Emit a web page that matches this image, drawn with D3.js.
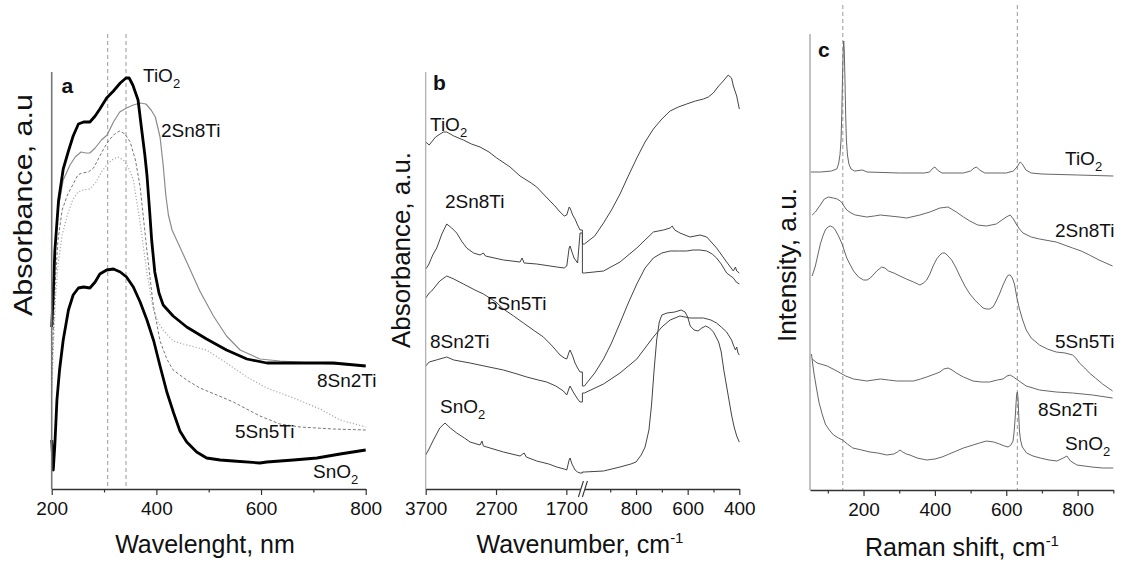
<!DOCTYPE html>
<html><head><meta charset="utf-8">
<script src="https://cdn.jsdelivr.net/npm/d3@7"></script>
<style>
body{margin:0;background:#fff}
text{font-family:"Liberation Sans",Arial,Helvetica,sans-serif;fill:#111}
</style>
</head><body>
<svg id="chart" width="1127" height="562"></svg>
<script>
// ---------------- DATA ----------------
const samples = ["TiO2","2Sn8Ti","5Sn5Ti","8Sn2Ti","SnO2"];

// Panel a: UV-Vis absorbance (wavelength nm, absorbance a.u.)
const uvTiO2 = [[200,162],[203,195],[206,238],[213,288],[222,320],[232,338],[241,353],[251,365],[261,367],[273,367],[283,373],[292,380],[305,391],[318,398],[331,406],[342,411],[348,411],[355,404],[365,389],[372,359],[378,334],[382,314],[387,279],[391,249],[397,217],[405,196],[413,184],[432,173],[458,162],[496,150],[534,139],[573,130],[611,126],[675,126],[738,126],[800,123]];
const uv2Sn8Ti = [[200,159],[205,229],[212,279],[222,309],[235,324],[245,332],[256,337],[265,336],[273,336],[283,341],[295,349],[306,354],[318,367],[330,377],[343,381],[356,384],[369,386],[380,385],[390,379],[398,372],[407,352],[413,324],[418,294],[423,274],[430,259],[458,227],[483,198],[509,173],[534,153],[560,139],[598,130],[636,128],[700,126],[800,123]];
const uv5Sn5Ti = [[200,109],[203,159],[207,209],[212,249],[220,279],[230,294],[240,304],[250,314],[258,316],[270,317],[280,321],[290,331],[300,341],[310,349],[320,355],[330,358],[340,355],[350,347],[360,329],[369,302],[382,238],[394,184],[407,148],[420,130],[432,119],[458,109],[483,101],[520,93],[547,87],[598,73],[636,65],[675,62],[738,60],[800,59]];
const uv8Sn2Ti = [[200,94],[203,139],[207,189],[212,224],[220,254],[230,274],[240,289],[250,297],[260,299],[273,300],[285,307],[295,317],[305,324],[315,329],[326,332],[337,329],[347,321],[356,309],[369,266],[382,216],[394,180],[404,166],[413,159],[432,148],[458,144],[496,139],[534,126],[573,112],[611,101],[662,91],[713,80],[751,69],[800,62]];
const uvSnO2 = [[200,49],[203,19],[206,44],[210,89],[215,119],[222,149],[232,179],[241,194],[251,201],[261,202],[273,201],[283,207],[292,215],[305,219],[318,220],[331,217],[343,212],[356,202],[369,187],[382,169],[395,148],[407,123],[420,97],[433,76],[445,58],[458,47],[477,37],[496,31],[522,29],[547,28],[598,26],[611,27],[662,29],[707,31],[751,35],[800,39]];
const uvRefLines = [307, 342];
const uvTicks = [200,400,600,800];
const uvMinorTicks = [300,500,700];

// Panel b: FTIR absorbance, high-wavenumber part (3700-1500) and low part (1000-400)
const irTiO2High = [[3700,347],[3650,344],[3560,352],[3450,357],[3401,357],[3300,353],[3164,349],[3050,345],[2927,342],[2800,337],[2690,331],[2500,322],[2358,313],[2200,306],[2121,302],[2000,293],[1931,288],[1850,282],[1789,277],[1730,273],[1694,274],[1660,282],[1647,281],[1610,274],[1576,270],[1540,264],[1505,259]];
const irTiO2Low = [[1000,245],[960,253],[926,266],[895,279],[862,295],[830,313],[797,331],[765,347],[733,360],[700,370],[668,378],[636,382],[604,385],[570,388],[539,390],[520,392],[501,396],[480,403],[462,408],[443,414],[430,411],[423,403],[410,393],[400,380]];
const ir2Sn8TiHigh = [[3700,220],[3660,224],[3600,234],[3543,241],[3470,255],[3401,265],[3330,261],[3259,256],[3190,248],[3117,241],[3020,236],[2927,234],[2880,236],[2850,233],[2595,229],[2358,227],[2330,231],[2300,226],[2121,225],[1836,222],[1730,221],[1694,223],[1660,241],[1647,243],[1620,237],[1590,231],[1540,226],[1505,256]];
const ir2Sn8TiLow = [[1000,216],[926,218],[862,227],[797,241],[765,249],[733,257],[694,259],[668,261],[660,263],[650,259],[630,256],[591,252],[552,254],[526,252],[488,241],[449,227],[423,218],[415,222],[410,218],[400,216]];
const ir5Sn5TiHigh = [[3700,191],[3650,196],[3615,198],[3500,208],[3401,213],[3300,210],[3164,205],[3000,199],[2879,195],[2700,187],[2595,180],[2450,173],[2310,166],[2150,158],[2026,152],[1900,143],[1789,134],[1730,131],[1694,130],[1660,137],[1647,139],[1610,133],[1576,126],[1540,121],[1505,117]];
const ir5Sn5TiLow = [[1000,103],[960,116],[926,130],[895,146],[862,166],[830,186],[797,205],[765,221],[733,231],[700,236],[668,238],[636,238],[604,238],[580,239],[552,239],[526,238],[505,235],[488,231],[470,225],[449,216],[423,211],[412,207],[400,205]];
const ir8Sn2TiHigh = [[3700,123],[3650,127],[3550,129],[3401,132],[3300,129],[3069,126],[2800,122],[2595,119],[2400,115],[2263,112],[2100,109],[1979,107],[1850,103],[1741,98],[1694,94],[1660,101],[1647,103],[1610,98],[1576,94],[1540,90],[1505,87]];
const ir8Sn2TiLow = [[1000,96],[926,105],[862,116],[797,130],[765,141],[733,152],[700,162],[668,169],[630,173],[591,171],[560,171],[539,171],[510,169],[488,166],[470,162],[449,157],[430,149],[423,144],[415,139],[410,142],[405,136],[400,134]];
const irSnO2High = [[3700,34],[3660,39],[3590,49],[3500,61],[3425,66],[3350,61],[3259,56],[3150,51],[3069,47],[2927,44],[2900,48],[2880,43],[2595,37],[2358,33],[2300,36],[2270,32],[2121,28],[1950,25],[1836,22],[1730,20],[1694,19],[1660,29],[1647,31],[1620,25],[1576,19],[1540,17],[1505,16]];
const irSnO2Low = [[1000,17],[926,18],[862,22],[820,25],[800,27],[780,34],[765,42],[750,59],[740,84],[730,119],[720,149],[710,167],[700,174],[680,176],[650,177],[625,179],[610,177],[600,172],[590,163],[575,159],[560,158],[545,161],[530,163],[515,161],[500,157],[490,152],[480,147],[470,137],[460,119],[450,104],[440,89],[430,74],[420,62],[410,53],[400,47]];
const irHighTicks = [3700,2700,1700];
const irLowTicks = [800,600,400];
const irLowMinorTicks = [900,700,500];

// Panel c: Raman intensity (Raman shift cm-1, intensity a.u.)
const ramanTiO2 = [[50,318],[80,318],[110,319],[125,321],[130,326],[134,335],[137,350],[139,375],[141,410],[143,440],[144.5,449],[146,440],[148,410],[150,375],[152,350],[155,335],[159,326],[165,321],[175,319],[197,320],[210,318],[300,317],[370,317],[385,318],[395,322],[400,323],[407,320],[420,317],[480,317],[500,319],[510,322],[517,323],[525,320],[540,317],[600,317],[620,319],[630,323],[639,328],[645,326],[655,320],[670,317],[700,316],[800,315],[900,314]];
const raman2Sn8Ti = [[56,275],[65,278],[79,285],[90,291],[102,293],[115,292],[126,291],[135,289],[140,287],[147,283],[153,280],[165,277],[177,275],[209,273],[230,274],[247,275],[274,274],[300,273],[321,272],[358,275],[386,278],[414,282],[437,283],[460,278],[480,273],[498,269],[520,265],[544,264],[572,266],[600,273],[611,275],[620,271],[628,266],[637,261],[647,257],[670,253],[693,251],[740,248],[786,242],[810,239],[833,235],[860,230],[898,224]];
const raman5Sn5Ti = [[56,214],[65,224],[72,235],[79,246],[86,254],[93,260],[100,263],[107,264],[114,263],[121,260],[130,254],[140,246],[153,232],[163,225],[172,219],[186,213],[200,210],[210,210],[219,212],[237,219],[251,223],[260,222],[270,219],[285,217],[302,214],[320,211],[340,208],[358,205],[368,207],[377,210],[386,216],[395,224],[405,231],[414,235],[421,237],[428,237],[437,234],[447,230],[458,223],[470,214],[484,204],[498,196],[512,190],[526,185],[535,182],[544,181],[553,181],[563,183],[572,189],[581,196],[591,205],[600,212],[606,215],[611,215],[617,212],[623,206],[630,192],[637,181],[646,170],[656,160],[670,152],[693,145],[715,141],[740,138],[765,137],[786,135],[795,132],[805,127],[820,122],[833,117],[850,112],[870,106],[898,99]];
const raman8Sn2Ti = [[56,131],[70,127],[98,124],[120,120],[135,117],[150,114],[172,111],[209,109],[247,111],[270,110],[293,109],[320,109],[340,109],[360,111],[377,113],[400,116],[414,118],[425,121],[437,122],[448,120],[460,117],[480,113],[507,109],[530,108],[553,108],[575,110],[591,111],[602,114],[611,115],[620,113],[628,111],[640,108],[656,104],[675,102],[693,100],[740,98],[786,97],[842,95],[898,92]];
const ramanSnO2 = [[54,136],[58,125],[61,117],[68,102],[75,88],[84,76],[93,66],[104,60],[116,55],[130,52],[141,50],[155,46],[170,42],[195,40],[218,38],[240,37],[265,35],[285,36],[295,38],[302,40],[310,38],[320,36],[330,35],[350,32],[377,30],[400,31],[420,33],[440,36],[460,39],[480,42],[507,45],[525,47],[544,49],[565,48],[581,46],[595,44],[605,43],[613,45],[619,49],[622,58],[625,72],[627,84],[629,95],[631,98],[633,92],[635,75],[637,59],[640,50],[645,43],[657,37],[675,34],[695,32],[720,30],[742,29],[760,32],[770,34],[780,29],[798,25],[840,23],[870,22],[900,22]];
const ramanRefLines = [142, 631];
const ramanTicks = [200,400,600,800];
const ramanMinorTicks = [100,300,500,700,900];

// ---------------- DRAWING ----------------
const svg = d3.select("#chart");
const FONT = '"Liberation Sans",Arial,Helvetica,sans-serif';

const xA = d3.scaleLinear().domain([200,800]).range([51.7,365.7]);
const yA = d3.scaleLinear().domain([0,417]).range([489,72]);
const xBH = d3.scaleLinear().domain([3700,1500]).range([425.7,580.4]);
const xBL = d3.scaleLinear().domain([1000,400]).range([584.4,739.3]);
const yB = d3.scaleLinear().domain([0,417]).range([489,72]);
const xC = d3.scaleLinear().domain([50,900]).range([810,1113.3]);
const yC = d3.scaleLinear().domain([0,456]).range([490,34]);

function bottomAxis(scale, y, major, minor) {
  const g = svg.append("g").attr("transform", `translate(0,${y})`);
  g.call(d3.axisBottom(scale).tickValues(major).tickSize(6).tickSizeOuter(0).tickPadding(6.5).tickFormat(d3.format("d")));
  g.select(".domain").attr("stroke", "#333").attr("stroke-width", 1.3);
  g.selectAll(".tick line").attr("stroke", "#333").attr("stroke-width", 1.2);
  g.selectAll(".tick text").attr("font-size", 19).attr("font-family", FONT).attr("fill", "#111");
  if (minor) {
    const m = svg.append("g").attr("transform", `translate(0,${y})`);
    m.call(d3.axisBottom(scale).tickValues(minor).tickSize(3.5).tickFormat(""));
    m.select(".domain").remove();
    m.selectAll(".tick line").attr("stroke", "#333").attr("stroke-width", 1.2);
  }
  return g;
}

function leftLine(x, y0, y1, color, w) {
  svg.append("line").attr("x1", x).attr("x2", x).attr("y1", y0).attr("y2", y1)
    .attr("stroke", color).attr("stroke-width", w);
}

function curveLabel(x, y, name) {
  const t = svg.append("text").attr("x", x).attr("y", y).attr("font-size", 19);
  const m = name.match(/^(.*O)(2)$/);
  if (m) {
    t.append("tspan").text(m[1]);
    t.append("tspan").attr("dy", 6).attr("font-size", 13).text(m[2]);
  } else t.text(name);
}

function panelLetter(x, y, s) {
  svg.append("text").attr("x", x).attr("y", y).attr("font-size", 21)
    .attr("font-weight", "bold").text(s);
}

function xTitle(cx, y, main, sup) {
  const t = svg.append("text").attr("x", cx).attr("y", y).attr("font-size", 25)
    .attr("text-anchor", "middle");
  t.append("tspan").text(main);
  if (sup) t.append("tspan").attr("dy", -10).attr("font-size", 15).text(sup);
}

function yTitle(x, cy, s, len, size) {
  svg.append("text").attr("transform", `translate(${x},${cy}) rotate(-90)`)
    .attr("font-size", size).attr("text-anchor", "middle")
    .attr("textLength", len).attr("lengthAdjust", "spacingAndGlyphs").text(s);
}

// ---- Panel a ----
uvRefLines.forEach(v => {
  svg.append("line").attr("x1", xA(v)).attr("x2", xA(v)).attr("y1", 34).attr("y2", 489)
    .attr("stroke", "#999").attr("stroke-width", 1).attr("stroke-dasharray", "4,3");
});
const lineA = d3.line().x(d => xA(d[0])).y(d => yA(d[1]));
const uvSeries = [
  {d: uv8Sn2Ti, stroke: "#a8a8a8", w: 1.2, dash: "1.2,2"},
  {d: uv5Sn5Ti, stroke: "#777", w: 1, dash: "3,2"},
  {d: uv2Sn8Ti, stroke: "#8c8c8c", w: 1.2, dash: null},
  {d: uvSnO2, stroke: "#000", w: 2.8, dash: null},
  {d: uvTiO2, stroke: "#000", w: 2.8, dash: null}
];
uvSeries.forEach(s => {
  svg.append("path").attr("d", lineA(s.d)).attr("fill", "none").attr("stroke", s.stroke)
    .attr("stroke-width", s.w).attr("stroke-dasharray", s.dash).attr("stroke-linejoin", "round");
});
leftLine(51.7, 72, 489, "#777", 1.6);
bottomAxis(xA, 489, uvTicks, uvMinorTicks);
panelLetter(61.5, 93, "a");
curveLabel(143, 82, samples[0]);
curveLabel(161, 137, samples[1]);
curveLabel(317, 387, samples[3]);
curveLabel(235, 438, samples[2]);
curveLabel(313, 478, samples[4]);
xTitle(205, 553, "Wavelenght, nm", null);
yTitle(32, 205, "Absorbance, a.u", 222, 26);

// ---- Panel b ----
function brokenPath(high, low) {
  const pts = high.map(d => [xBH(d[0]), yB(d[1])]);
  const xb = (xBH.range()[1] + xBL.range()[0]) / 2;
  pts.push([xb, yB(high[high.length - 1][1])]);
  pts.push([xb, yB(low[0][1])]);
  low.forEach(d => pts.push([xBL(d[0]), yB(d[1])]));
  return d3.line()(pts);
}
const irSeries = [
  [irTiO2High, irTiO2Low], [ir2Sn8TiHigh, ir2Sn8TiLow], [ir5Sn5TiHigh, ir5Sn5TiLow],
  [ir8Sn2TiHigh, ir8Sn2TiLow], [irSnO2High, irSnO2Low]
];
irSeries.forEach(s => {
  svg.append("path").attr("d", brokenPath(s[0], s[1])).attr("fill", "none")
    .attr("stroke", "#444").attr("stroke-width", 1).attr("stroke-linejoin", "round");
});
leftLine(425.7, 72, 489, "#aaa", 1.2);
bottomAxis(xBH, 489, irHighTicks, null);
bottomAxis(xBL, 489, irLowTicks, irLowMinorTicks);
// axis break marks
[0, 4].forEach(o => {
  svg.append("line").attr("x1", xBH.range()[1] - 2 + o).attr("y1", 497)
    .attr("x2", xBH.range()[1] + 3 + o).attr("y2", 481)
    .attr("stroke", "#333").attr("stroke-width", 1.1);
});
panelLetter(433, 90, "b");
curveLabel(430, 131, samples[0]);
curveLabel(445, 208, samples[1]);
curveLabel(487, 310, samples[2]);
curveLabel(430, 348, samples[3]);
curveLabel(440, 413, samples[4]);
xTitle(580, 553, "Wavenumber, cm", "-1");
yTitle(410, 250, "Absorbance, a.u.", 196, 25);

// ---- Panel c ----
ramanRefLines.forEach(v => {
  svg.append("line").attr("x1", xC(v)).attr("x2", xC(v)).attr("y1", 5).attr("y2", 490)
    .attr("stroke", "#999").attr("stroke-width", 1).attr("stroke-dasharray", "4,3");
});
const lineC = d3.line().x(d => xC(d[0])).y(d => yC(d[1]));
[ramanTiO2, raman2Sn8Ti, raman5Sn5Ti, raman8Sn2Ti, ramanSnO2].forEach(d => {
  svg.append("path").attr("d", lineC(d)).attr("fill", "none").attr("stroke", "#666")
    .attr("stroke-width", 1).attr("stroke-linejoin", "round");
});
leftLine(810, 34, 490, "#bbb", 1.8);
bottomAxis(xC, 490, ramanTicks, ramanMinorTicks);
panelLetter(818, 57, "c");
curveLabel(1065, 165, samples[0]);
curveLabel(1055, 237, samples[1]);
curveLabel(1055, 348, samples[2]);
curveLabel(1038, 416, samples[3]);
curveLabel(1065, 450, samples[4]);
xTitle(962, 556, "Raman shift, cm", "-1");
yTitle(796, 265, "Intensity, a.u.", 154, 25);
</script>
</body></html>
